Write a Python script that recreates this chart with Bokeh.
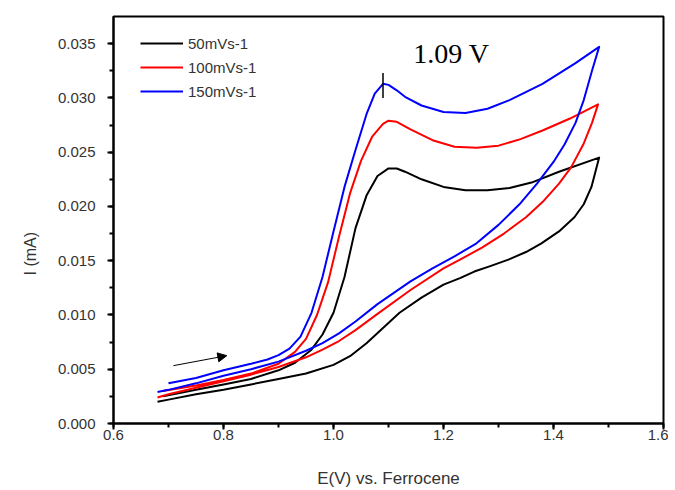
from bokeh.plotting import figure
from bokeh.models import (Range1d, SingleIntervalTicker, NumeralTickFormatter, Legend, LegendItem,
                          Arrow, NormalHead, Title)
from bokeh.core.properties import value
from bokeh.embed import file_html
from bokeh.resources import INLINE

# ---- data (E in V, I in mA) ----
series_names = ["50mVs-1", "100mVs-1", "150mVs-1"]
series_colors = ["#000000", "#ff0000", "#0000ff"]

e_50 = [0.69, 0.75, 0.80, 0.85, 0.90, 0.93, 0.96, 0.98, 1.00, 1.02, 1.04, 1.06, 1.08, 1.10, 1.115, 1.13,
        1.16, 1.20, 1.24, 1.28, 1.32, 1.36, 1.41, 1.483,
        1.469, 1.455, 1.438, 1.41, 1.378, 1.35, 1.318, 1.285, 1.256, 1.23, 1.20, 1.16, 1.12, 1.09, 1.06,
        1.03, 1.00, 0.95, 0.90, 0.85, 0.80, 0.75, 0.70, 0.68]
i_50 = [0.0025, 0.0031, 0.0036, 0.0041, 0.0049, 0.0056, 0.0068, 0.0082, 0.0102, 0.0135, 0.0180, 0.0210,
        0.0228, 0.0235, 0.0235, 0.0232, 0.0225, 0.0218, 0.0215, 0.0215, 0.0217, 0.0222, 0.0232, 0.0245,
        0.0218, 0.0202, 0.0190, 0.0177, 0.0166, 0.0158, 0.0151, 0.0145, 0.0140, 0.0134, 0.0128, 0.0116,
        0.0102, 0.0088, 0.0074, 0.0062, 0.0054, 0.0046, 0.0041, 0.0036, 0.0031, 0.0027, 0.0022, 0.0020]

e_100 = [0.69, 0.75, 0.80, 0.85, 0.90, 0.93, 0.95, 0.97, 0.99, 1.01, 1.03, 1.05, 1.07, 1.09, 1.10, 1.115,
         1.14, 1.18, 1.22, 1.26, 1.30, 1.34, 1.38, 1.43, 1.481,
         1.47, 1.455, 1.432, 1.41, 1.38, 1.35, 1.31, 1.27, 1.23, 1.20, 1.14, 1.08, 1.04, 1.01, 0.98,
         0.95, 0.90, 0.85, 0.80, 0.75, 0.70, 0.68]
i_100 = [0.0030, 0.0035, 0.0040, 0.0046, 0.0055, 0.0066, 0.0078, 0.0100, 0.0130, 0.0172, 0.0212, 0.0242,
         0.0264, 0.0276, 0.0279, 0.0278, 0.0271, 0.0261, 0.0255, 0.0254, 0.0256, 0.0262, 0.0270, 0.0281,
         0.0294,
         0.0277, 0.0258, 0.0236, 0.0221, 0.0204, 0.0190, 0.0175, 0.0162, 0.0151, 0.0143, 0.0123, 0.0101,
         0.0086, 0.0076, 0.0068, 0.0061, 0.0052, 0.0045, 0.0039, 0.0033, 0.0027, 0.0024]

e_150 = [0.70, 0.75, 0.80, 0.85, 0.88, 0.90, 0.92, 0.94, 0.96, 0.98, 1.00, 1.02, 1.04, 1.06, 1.075, 1.09,
         1.10, 1.115, 1.13, 1.16, 1.20, 1.24, 1.28, 1.32, 1.38, 1.44, 1.483,
         1.47, 1.455, 1.44, 1.42, 1.40, 1.37, 1.34, 1.30, 1.26, 1.22, 1.18, 1.14, 1.08, 1.04, 1.01, 0.98,
         0.95, 0.90, 0.85, 0.80, 0.75, 0.70, 0.68]
i_150 = [0.0037, 0.0042, 0.0049, 0.0055, 0.0059, 0.0063, 0.0069, 0.0080, 0.0102, 0.0135, 0.0177, 0.0218,
         0.0252, 0.0285, 0.0304, 0.0313, 0.0312, 0.0307, 0.0301, 0.0293, 0.0287, 0.0286, 0.0290, 0.0298,
         0.0313, 0.0332, 0.0347,
         0.0325, 0.0298, 0.0277, 0.0257, 0.0241, 0.0221, 0.0203, 0.0183, 0.0166, 0.0154, 0.0143, 0.0131,
         0.0110, 0.0094, 0.0083, 0.0074, 0.0067, 0.0057, 0.0050, 0.0044, 0.0037, 0.0031, 0.0029]

x_range_v = (0.6, 1.6)
y_range_ma = (0.0, 0.0375)

# annotations
peak_e = [1.09]
peak_i0 = [0.0300]
peak_i1 = [0.0323]
peak_text = ["1.09 V"]
peak_text_e = [1.145]
peak_text_i = [0.0341]
arrow_e = (0.709, 0.806)
arrow_i = (0.00533, 0.00625)

p = figure(width=668, height=490, output_backend="svg", toolbar_location=None,
           x_range=Range1d(*x_range_v), y_range=Range1d(*y_range_ma),
           min_border_left=113, min_border_right=5, min_border_top=16, min_border_bottom=66)

p.background_fill_color = "white"
p.border_fill_color = "white"
p.grid.visible = False
p.outline_line_color = "black"
p.outline_line_width = 2

renderers = []
for e, i, c in zip([e_50, e_100, e_150], [i_50, i_100, i_150], series_colors):
    r = p.line(e, i, line_color=c, line_width=2, line_join="round")
    renderers.append(r)

p.segment(x0=peak_e, y0=peak_i0, x1=peak_e, y1=peak_i1, line_color="black", line_width=1.5)
p.text(x=peak_text_e, y=peak_text_i, text=peak_text, text_font=value("Liberation Serif"),
       text_font_size="28px", text_baseline="middle", text_align="left", text_color="black")

p.add_layout(Arrow(end=NormalHead(size=9, fill_color="black", line_color="black"),
                   x_start=arrow_e[0], y_start=arrow_i[0], x_end=arrow_e[1], y_end=arrow_i[1],
                   line_color="black", line_width=1))

# axes
p.xaxis.ticker = SingleIntervalTicker(interval=0.2, num_minor_ticks=2)
p.yaxis.ticker = SingleIntervalTicker(interval=0.005, num_minor_ticks=2)
p.xaxis.formatter = NumeralTickFormatter(format="0.0")
p.yaxis.formatter = NumeralTickFormatter(format="0.000")
for ax in (p.xaxis[0], p.yaxis[0]):
    ax.axis_line_width = 2
    ax.major_tick_line_width = 2
    ax.minor_tick_line_width = 2
    ax.major_tick_out = 6
    ax.major_tick_in = 0
    ax.minor_tick_out = 4
    ax.minor_tick_in = 0
    ax.major_label_text_font = "Liberation Sans"
    ax.major_label_text_font_size = "15px"
    ax.major_label_text_color = "#333333"
    ax.axis_label_text_font = "Liberation Sans"
    ax.axis_label_text_font_size = "17px"
    ax.axis_label_text_font_style = "normal"
    ax.axis_label_text_color = "#333333"
p.xaxis.axis_label = "E(V) vs. Ferrocene"
p.xaxis.major_label_standoff = 0
p.yaxis.major_label_standoff = 12
p.xaxis.axis_label_standoff = 26

# y-axis title, placed below the centre of the axis as in the original
p.add_layout(Title(text="I (mA)", align="left", offset=148, vertical_align="top", standoff=27,
                   text_font="Liberation Sans", text_font_size="16px", text_font_style="normal",
                   text_color="#333333"), "left")

legend = Legend(items=[LegendItem(label=n, renderers=[r]) for n, r in zip(series_names, renderers)],
                location=(27, 321), margin=0, padding=0, border_line_color=None,
                background_fill_alpha=0, glyph_width=43, glyph_height=22, label_height=22,
                spacing=2, label_standoff=5, label_text_font="Liberation Sans",
                label_text_font_size="15px", label_text_color="#333333")
p.add_layout(legend)

open("out.html", "w").write(file_html(p, INLINE))
